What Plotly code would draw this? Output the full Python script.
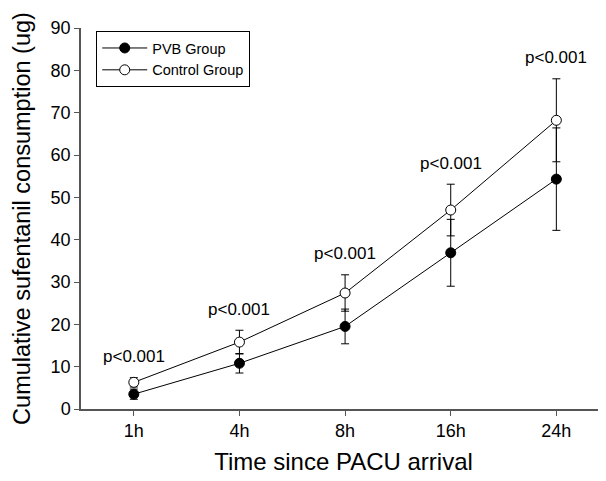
import plotly.graph_objects as go

categories = ["1h", "4h", "8h", "16h", "24h"]
pvb_mean = [3.5, 10.8, 19.5, 36.9, 54.3]
pvb_sd = [1.2, 2.3, 4.1, 7.9, 12.1]
control_mean = [6.3, 15.8, 27.4, 47.0, 68.2]
control_sd = [1.1, 2.8, 4.3, 6.1, 9.8]
p_labels = ["p<0.001", "p<0.001", "p<0.001", "p<0.001", "p<0.001"]
y_ticks = [0, 10, 20, 30, 40, 50, 60, 70, 80, 90]

xpos = list(range(len(categories)))
FONT = "Liberation Sans, Arial, sans-serif"

fig = go.Figure()
fig.add_trace(go.Scatter(
    x=xpos, y=pvb_mean, name="PVB Group", mode="lines+markers",
    line=dict(color="black", width=1),
    marker=dict(symbol="circle", size=10, color="black", line=dict(color="black", width=1)),
    error_y=dict(type="data", array=pvb_sd, color="black", thickness=1, width=4),
))
fig.add_trace(go.Scatter(
    x=xpos, y=control_mean, name="Control Group", mode="lines+markers",
    line=dict(color="black", width=1),
    marker=dict(symbol="circle", size=10, color="white", line=dict(color="black", width=1)),
    error_y=dict(type="data", array=control_sd, color="black", thickness=1, width=4),
))

for i, lab in enumerate(p_labels):
    fig.add_annotation(x=xpos[i], y=control_mean[i] + control_sd[i], text=lab,
                       showarrow=False, yanchor="middle", yshift=21,
                       font=dict(family=FONT, size=17, color="black"))

# page body has an 8px margin, so the figure is drawn 8px smaller
fig.update_layout(
    width=598, height=473,
    margin=dict(l=73, r=0, t=20, b=72),
    paper_bgcolor="white", plot_bgcolor="white",
    font=dict(family=FONT, color="black"),
    showlegend=True,
    legend=dict(x=0.029, y=0.992, xanchor="left", yanchor="top",
                bordercolor="black", borderwidth=1, bgcolor="white",
                font=dict(family=FONT, size=14.5, color="black"),
                tracegroupgap=0, itemwidth=45),
)
fig.update_xaxes(
    range=[-0.5, 4.47], tickmode="array", tickvals=xpos, ticktext=categories,
    showline=True, linecolor="#555555", linewidth=1.5, mirror=False, automargin=False,
    ticks="outside", ticklen=5, tickcolor="#555555", showgrid=False, zeroline=False,
    tickfont=dict(family=FONT, size=18, color="black"),
    title=dict(text="Time since PACU arrival", font=dict(family=FONT, size=24, color="black"), standoff=13),
)
fig.update_yaxes(
    range=[0, 90], tickmode="array", tickvals=y_ticks, automargin=False,
    showline=True, linecolor="#555555", linewidth=1.5,
    ticks="outside", ticklen=5, tickcolor="#555555", showgrid=False, zeroline=False,
    tickfont=dict(family=FONT, size=18, color="black"),
    title=dict(text="Cumulative sufentanil consumption (ug)", font=dict(family=FONT, size=23.5, color="black"), standoff=13),
)

fig.write_html("out.html")
